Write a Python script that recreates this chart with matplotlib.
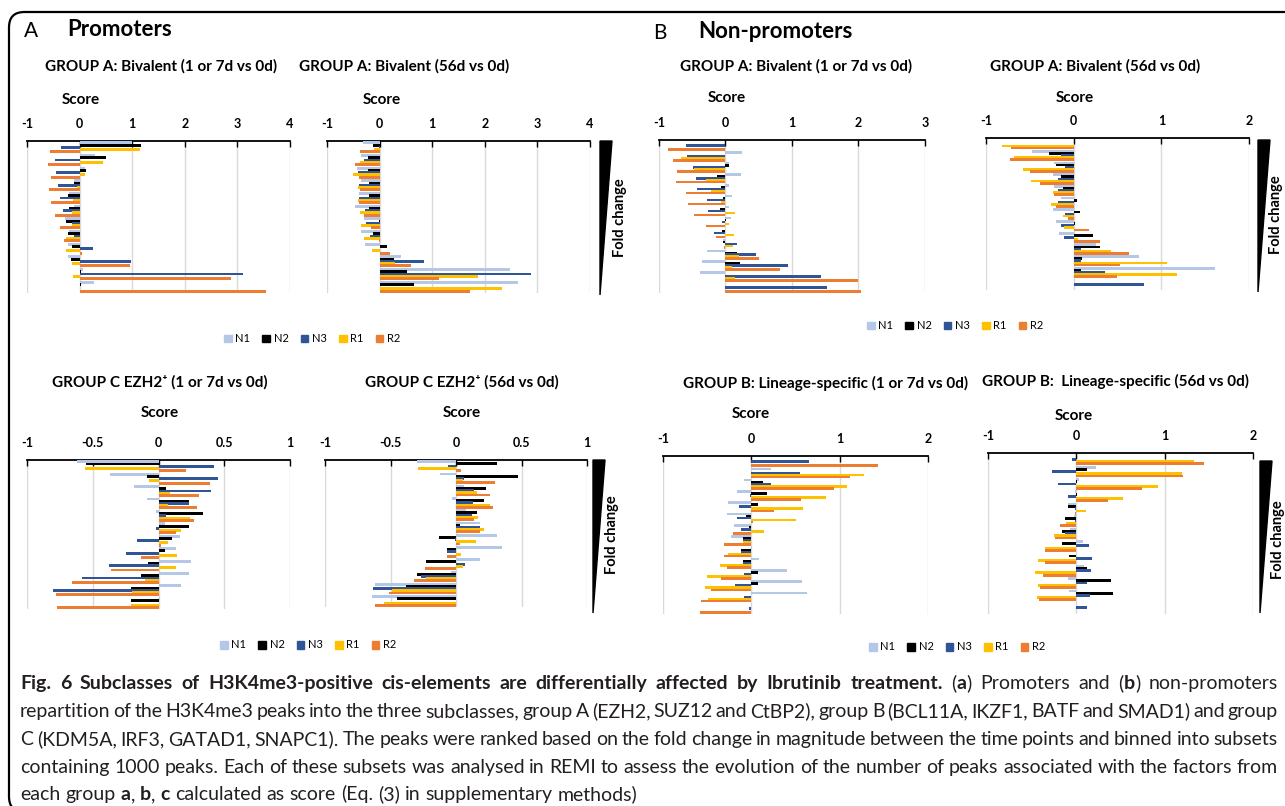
import matplotlib
matplotlib.use('Agg')
import matplotlib.pyplot as plt
from matplotlib.patches import FancyBboxPatch, Polygon
import numpy as np

plt.rcParams['font.family'] = ['Lato', 'DejaVu Sans']

W, H = 1285, 806
series = ['N1', 'N2', 'N3', 'R1', 'R2']
colors = ['#B4C7E7', '#000000', '#2F5597', '#FFC000', '#ED7D31']

# --- Promoters, group A bivalent, 1 or 7d vs 0d
p_biv17_N1 = [1.0, 0.3, 0.1, -0.1, -0.2, -0.1, -0.27, -0.2, -0.22, -0.22, 0.07, 0.28]
p_biv17_N2 = [1.17, 0.5, 0.13, -0.1, -0.23, -0.2, -0.25, -0.22, -0.15, -0.17, 0.03, 0.03]
p_biv17_N3 = [-0.35, -0.47, -0.45, -0.42, -0.38, -0.32, -0.15, -0.1, 0.25, 0.98, 3.1, 0.0]
p_biv17_R1 = [1.15, 0.45, 0.1, -0.05, -0.12, -0.15, -0.15, -0.25, -0.25, -0.15, -0.12, 0.0]
p_biv17_R2 = [-0.57, -0.6, -0.55, -0.58, -0.55, -0.47, -0.38, -0.3, 0.05, 0.95, 2.88, 3.55]

# --- Promoters, group A bivalent, 56d vs 0d
p_biv56_N1 = [-0.32, -0.35, -0.43, -0.35, -0.4, -0.47, -0.3, -0.35, -0.28, 0.4, 2.47, 2.63]
p_biv56_N2 = [-0.12, -0.22, -0.23, -0.2, -0.2, -0.2, -0.02, -0.13, 0.14, 0.28, 0.53, 0.65]
p_biv56_N3 = [-0.02, -0.3, -0.42, -0.4, -0.4, -0.28, -0.25, -0.18, 0.0, 0.85, 2.87, 0.0]
p_biv56_R1 = [-0.1, -0.38, -0.5, -0.42, -0.42, -0.37, -0.35, -0.3, -0.15, 0.3, 1.87, 2.33]
p_biv56_R2 = [-0.38, -0.47, -0.4, -0.38, -0.4, -0.3, -0.17, -0.02, 0.2, 0.6, 1.12, 1.72]

# --- Non-promoters, group A bivalent, 1 or 7d vs 0d
np_biv17_N1 = [0.0, 0.25, 0.05, 0.23, 0.05, 0.1, 0.05, 0.08, 0.0, -0.04, -0.28, -0.35, -0.39, 0.0]
np_biv17_N2 = [0.0, 0.0, 0.06, -0.13, -0.07, -0.04, -0.09, 0.01, -0.06, -0.04, 0.18, 0.22, 0.0, 0.0]
np_biv17_N3 = [-0.6, -0.58, -0.49, -0.45, -0.43, -0.28, -0.26, -0.05, -0.18, 0.17, 0.46, 0.94, 1.44, 1.53]
np_biv17_R1 = [0.0, -0.67, -0.47, -0.3, -0.22, -0.07, 0.14, 0.05, 0.13, 0.12, 0.2, 0.1, 0.14, 0.0]
np_biv17_R2 = [-0.86, -0.79, -0.73, -0.74, -0.59, -0.56, -0.47, -0.3, -0.14, -0.02, 0.5, 0.82, 2.0, 2.04]

# --- Non-promoters, group A bivalent, 56d vs 0d
np_biv56_N1 = [0.0, -0.47, -0.23, -0.24, -0.23, -0.15, -0.24, -0.2, -0.17, 0.25, 0.75, 1.61, 0.0]
np_biv56_N2 = [0.0, -0.28, -0.2, -0.15, -0.12, 0.04, 0.07, 0.01, 0.22, 0.3, 0.09, 0.08, 0.0]
np_biv56_N3 = [0.005, -0.14, -0.1, -0.18, -0.18, -0.18, -0.1, -0.14, -0.11, 0.08, 0.08, 0.36, 0.8]
np_biv56_R1 = [-0.82, -0.68, -0.58, -0.49, -0.24, -0.26, -0.12, -0.11, 0.05, 0.43, 1.07, 1.18, 0.0]
np_biv56_R2 = [-0.71, -0.73, -0.5, -0.38, -0.22, -0.2, -0.06, 0.18, 0.3, 0.63, 0.53, 0.49, 0.0]

# --- Promoters, group C EZH2+, 1 or 7d vs 0d
p_ezh17_N1 = [-0.62, -0.37, -0.19, -0.09, -0.02, 0.05, 0.16, 0.13, 0.25, 0.23, 0.17, 0.01]
p_ezh17_N2 = [-0.55, -0.09, 0.06, 0.23, 0.34, 0.23, 0.1, 0.05, -0.08, -0.13, -0.21, -0.21]
p_ezh17_N3 = [0.42, 0.45, 0.4, 0.23, 0.06, -0.02, -0.16, -0.25, -0.38, -0.58, -0.8, 0.0]
p_ezh17_R1 = [-0.56, -0.07, 0.09, 0.07, 0.24, 0.17, 0.07, 0.14, 0.13, -0.1, -0.2, -0.21]
p_ezh17_R2 = [0.21, 0.39, 0.31, 0.29, 0.27, 0.13, 0.02, -0.13, -0.36, -0.66, -0.78, -0.77]

# --- Promoters, group C EZH2+, 56d vs 0d
p_ezh56_N1 = [-0.3, -0.12, 0.06, -0.03, 0.08, 0.18, 0.31, 0.35, 0.18, -0.04, -0.62, -0.64]
p_ezh56_N2 = [0.31, 0.47, 0.23, 0.21, 0.16, 0.03, -0.13, -0.07, -0.23, -0.3, -0.38, -0.45]
p_ezh56_N3 = [-0.06, 0.06, 0.14, 0.13, 0.12, 0.18, -0.01, -0.07, 0.07, -0.27, -0.63, 0.0]
p_ezh56_R1 = [-0.29, 0.05, 0.16, 0.26, 0.17, 0.21, 0.15, 0.04, 0.05, -0.23, -0.49, -0.55]
p_ezh56_R2 = [0.04, 0.3, 0.26, 0.28, 0.14, 0.18, 0.03, -0.07, -0.24, -0.32, -0.51, -0.62]

# --- Non-promoters, group B lineage-specific, 1 or 7d vs 0d
np_lin17_N1 = [0.0, 0.22, -0.08, -0.16, -0.26, -0.28, -0.2, -0.23, 0.01, 0.09, 0.4, 0.57, 0.63, 0.0]
np_lin17_N2 = [0.0, 0.0, 0.13, 0.18, 0.08, -0.06, -0.03, -0.1, -0.12, -0.09, 0.07, 0.07, 0.0, 0.0]
np_lin17_N3 = [0.65, 0.55, 0.22, -0.02, -0.14, -0.16, -0.12, -0.1, -0.12, -0.1, -0.08, -0.18, -0.08, -0.03]
np_lin17_R1 = [0.0, 1.28, 1.08, 0.84, 0.58, 0.51, 0.14, -0.1, -0.26, -0.36, -0.5, -0.52, -0.49, 0.0]
np_lin17_R2 = [1.43, 1.12, 0.94, 0.56, 0.26, 0.02, -0.21, -0.31, -0.31, -0.27, -0.34, -0.46, -0.57, -0.58]

# --- Non-promoters, group B lineage-specific, 56d vs 0d
np_lin56_N1 = [0.0, 0.22, 0.03, -0.02, -0.09, -0.03, -0.07, 0.07, 0.0, 0.09, -0.1, -0.08, 0.0]
np_lin56_N2 = [0.0, 0.12, 0.01, 0.01, -0.1, -0.13, -0.16, -0.16, -0.08, 0.12, 0.39, 0.41, 0.0]
np_lin56_N3 = [-0.05, -0.27, -0.21, -0.09, -0.02, -0.02, -0.13, 0.14, 0.18, 0.17, 0.12, 0.15, 0.12]
np_lin56_R1 = [1.33, 1.2, 0.92, 0.53, 0.11, -0.12, -0.25, -0.35, -0.43, -0.47, -0.43, -0.44, 0.0]
np_lin56_R2 = [1.45, 1.21, 0.74, 0.36, -0.01, -0.19, -0.24, -0.35, -0.36, -0.38, -0.41, -0.42, 0.0]

ticks_4 = [-1, 0, 1, 2, 3, 4]
ticks_3 = [-1, 0, 1, 2, 3]
ticks_2 = [-1, 0, 1, 2]
ticks_1 = [-1, -0.5, 0, 0.5, 1]
labels_4 = ['-1', '0', '1', '2', '3', '4']
labels_3 = ['-1', '0', '1', '2', '3']
labels_2 = ['-1', '0', '1', '2']
labels_1 = ['-1', '-0.5', '0', '0.5', '1']

fig = plt.figure(figsize=(W / 100, H / 100), dpi=100)


def fx(px):
    return px / W


def fy(py):
    return 1 - py / H


def panel(box, data, ticks, labels):
    l, t, r, b = box
    ax = fig.add_axes([fx(l), fy(b), (r - l) / W, (b - t) / H])
    n = len(data[0])
    y = np.arange(n)
    h = 0.18
    for j, (vals, c) in enumerate(zip(data, colors)):
        ax.barh(y + (j - 2) * h, vals, height=h * 1.3, color=c, zorder=3)
    ax.set_xlim(ticks[0], ticks[-1])
    ax.set_ylim(n - 0.5, -0.5)
    ax.xaxis.tick_top()
    ax.set_xticks(ticks)
    ax.set_xticklabels(labels, fontsize=9, fontweight='bold')
    ax.tick_params(axis='x', direction='in', length=4, width=1, pad=8)
    ax.set_yticks([])
    for s in ['left', 'right', 'bottom']:
        ax.spines[s].set_visible(False)
    ax.spines['top'].set_linewidth(1.3)
    ax.grid(axis='x', color='#D9D9D9', linewidth=1, zorder=0)
    return ax


panel((27, 141, 290, 293), [p_biv17_N1, p_biv17_N2, p_biv17_N3, p_biv17_R1, p_biv17_R2], ticks_4, labels_4)
panel((327, 141, 590, 293), [p_biv56_N1, p_biv56_N2, p_biv56_N3, p_biv56_R1, p_biv56_R2], ticks_4, labels_4)
panel((659, 140, 925, 293), [np_biv17_N1, np_biv17_N2, np_biv17_N3, np_biv17_R1, np_biv17_R2], ticks_3, labels_3)
panel((986, 138, 1249, 290), [np_biv56_N1, np_biv56_N2, np_biv56_N3, np_biv56_R1, np_biv56_R2], ticks_2, labels_2)
panel((27, 460, 290, 609), [p_ezh17_N1, p_ezh17_N2, p_ezh17_N3, p_ezh17_R1, p_ezh17_R2], ticks_1, labels_1)
panel((325, 460, 587, 607), [p_ezh56_N1, p_ezh56_N2, p_ezh56_N3, p_ezh56_R1, p_ezh56_R2], ticks_1, labels_1)
panel((663, 456, 928, 614), [np_lin17_N1, np_lin17_N2, np_lin17_N3, np_lin17_R1, np_lin17_R2], ticks_2, labels_2)
panel((988, 453, 1253, 614), [np_lin56_N1, np_lin56_N2, np_lin56_N3, np_lin56_R1, np_lin56_R2], ticks_2, labels_2)

# rounded frame (runs off the right and bottom edges)
frame = FancyBboxPatch((fx(9), fy(812)), fx(1320) - fx(9), fy(12) - fy(812),
                       boxstyle='round,pad=0,rounding_size=0.012', transform=fig.transFigure,
                       fill=False, edgecolor='black', linewidth=1.6, mutation_aspect=W / H)
fig.patches.append(frame)

# section headers
fig.text(fx(24), fy(31), 'A', fontsize=15, va='center')
fig.text(fx(67), fy(30), 'Promoters', fontsize=16, fontweight='bold', va='center')
fig.text(fx(653), fy(33), 'B', fontsize=15, va='center')
fig.text(fx(698), fy(31), 'Non-promoters', fontsize=16, fontweight='bold', va='center')

titles = [
    (161, 66, 'GROUP A: Bivalent (1 or 7d vs 0d)'),
    (404, 66, 'GROUP A: Bivalent (56d vs 0d)'),
    (796, 66, 'GROUP A: Bivalent (1 or 7d vs 0d)'),
    (1095, 66, 'GROUP A: Bivalent (56d vs 0d)'),
    (160, 382, 'GROUP C EZH2\u207a (1 or 7d vs 0d)'),
    (462, 382, 'GROUP C EZH2\u207a (56d vs 0d)'),
    (826, 383, 'GROUP B: Lineage-specific (1 or 7d vs 0d)'),
    (1115, 381, 'GROUP B:  Lineage-specific (56d vs 0d)'),
]
for x, y, s in titles:
    fig.text(fx(x), fy(y), s, fontsize=11, fontweight='bold', ha='center', va='center')

for x, y in [(81, 100), (382, 100), (727, 98), (1075, 98), (160, 413), (462, 413), (751, 414), (1074, 416)]:
    fig.text(fx(x), fy(y), 'Score', fontsize=11, fontweight='bold', ha='center', va='center')

# fold change wedges
for x0, top, bot, tx, ty in [(600, 141, 295, 620, 218), (1258, 140, 292, 1276, 215),
                             (593, 460, 613, 612, 535), (1260, 461, 613, 1278, 540)]:
    tri = Polygon([(fx(x0), fy(top)), (fx(x0 + 12), fy(top)), (fx(x0), fy(bot))],
                  closed=True, transform=fig.transFigure, facecolor='black', edgecolor='black')
    fig.patches.append(tri)
    fig.text(fx(tx), fy(ty), 'Fold change', fontsize=10.5, fontweight='bold', rotation=90,
             ha='center', va='center')

# legends
for cx, cy in [(312, 339), (955, 326), (308, 645), (957, 647)]:
    h_ = [plt.Rectangle((0, 0), 1, 1, color=c) for c in colors]
    fig.legend(h_, series, loc='center', bbox_to_anchor=(fx(cx), fy(cy)), ncol=5, frameon=False,
               fontsize=8, handlelength=0.7, handleheight=0.7, handletextpad=0.3, columnspacing=1.1)

# caption, justified line by line
caption_lines = [
    "**Fig. 6 Subclasses of H3K4me3-positive cis-elements are differentially affected by Ibrutinib treatment.** (**a**) Promoters and (**b**) non-promoters",
    "repartition of the H3K4me3 peaks into the three subclasses, group A (EZH2, SUZ12 and CtBP2), group B (BCL11A, IKZF1, BATF and SMAD1) and group",
    "C (KDM5A, IRF3, GATAD1, SNAPC1). The peaks were ranked based on the fold change in magnitude between the time points and binned into subsets",
    "containing 1000 peaks. Each of these subsets was analysed in REMI to assess the evolution of the number of peaks associated with the factors from",
    "each group **a**, **b**, **c** calculated as score (Eq. (3) in supplementary methods)",
]
cap_fs = 14
x_left, x_right = 20, 1278
baselines = [689, 717, 745, 773, 800]
renderer = fig.canvas.get_renderer()


def words_of(line):
    parts = line.split('**')
    words, cur = [], []
    for k, part in enumerate(parts):
        bold = k % 2 == 1
        chunks = part.split(' ')
        for ci, ch in enumerate(chunks):
            if ci > 0:
                if cur:
                    words.append(cur)
                cur = []
            if ch:
                cur.append((ch, bold))
    if cur:
        words.append(cur)
    return words


tmp = fig.text(0, 0, 'a a', fontsize=cap_fs)
tmp2 = fig.text(0, 0, 'aa', fontsize=cap_fs)
space_w = tmp.get_window_extent(renderer).width - tmp2.get_window_extent(renderer).width
tmp.remove()
tmp2.remove()

for li, line in enumerate(caption_lines):
    words = words_of(line)
    arts = []
    widths = []
    for w in words:
        segs = []
        tot = 0
        for s, bold in w:
            t = fig.text(0, fy(baselines[li]), s, fontsize=cap_fs, va='baseline',
                         fontweight='bold' if bold else 'normal', color='#231F20')
            wd = t.get_window_extent(renderer).width
            segs.append((t, wd))
            tot += wd
        arts.append(segs)
        widths.append(tot)
    if li < len(caption_lines) - 1:
        gap = (x_right - x_left - sum(widths)) / (len(words) - 1)
    else:
        gap = space_w
    x = x_left
    for segs, wd in zip(arts, widths):
        xx = x
        for t, sw in segs:
            t.set_x(fx(xx))
            xx += sw
        x += wd + gap

fig.savefig('out.png', dpi=100)
